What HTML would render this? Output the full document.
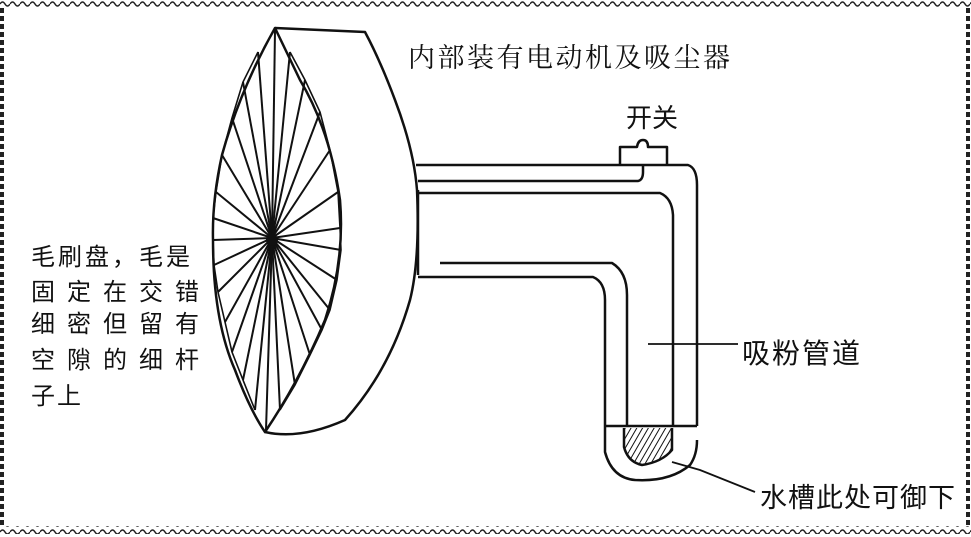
<!DOCTYPE html>
<html><head><meta charset="utf-8"><style>
html,body{margin:0;padding:0;background:#fff;}
svg{display:block;}
text{font-family:"Liberation Sans","Noto Sans CJK SC",sans-serif;fill:#111;}
</style></head><body>
<svg width="971" height="537" viewBox="0 0 971 537" xmlns="http://www.w3.org/2000/svg">
<defs>
<pattern id="w" width="10" height="8" patternUnits="userSpaceOnUse">
<path d="M0 4 Q2.5 0 5 4 T10 4" fill="none" stroke="#222" stroke-width="1.5"/>
</pattern>
<pattern id="h" width="5" height="5" patternUnits="userSpaceOnUse" patternTransform="rotate(30)">
<line x1="0" y1="0" x2="0" y2="5" stroke="#111" stroke-width="2"/>
</pattern>
</defs>
<rect x="0" y="1" width="971" height="8" fill="url(#w)"/>
<rect x="0" y="526" width="971" height="8" fill="url(#w)"/>
<line x1="2" y1="8" x2="2" y2="528" stroke="#222" stroke-width="4" stroke-dasharray="5 3"/>
<line x1="968" y1="8" x2="968" y2="528" stroke="#222" stroke-width="4" stroke-dasharray="5 3"/>

<g fill="none" stroke="#111" stroke-width="2.5" stroke-linejoin="round">
<path d="M275 28 L365 32 Q380 60 395 100 Q414 150 417 190 Q420 260 410 300 Q390 370 345 420 Q300 440 265 432"/>
<path d="M275 28 Q240 90 222 155 Q212 200 213 240 Q213 320 235 370 Q250 410 265 432 Q300 380 325 320 Q345 260 340 200 Q330 130 300 80 Z"/>
<path d="M416 165 L688 165 Q697 168 697 185 L697 426"/>
<path d="M418 181 L638 181 Q643 180 643 172 L643 165"/>
<path d="M418 193 L660 193 Q672 198 673 215 L673 426"/>
<path d="M440 263 L612 263 Q627 272 627 295 L627 426"/>
<path d="M418 277 L593 277 Q605 282 605 300 L605 426"/>
<path d="M418 190 L418 275"/>
<line x1="605" y1="426" x2="697" y2="426"/>
<path d="M605 426 L605 452 Q612 478 635 480 Q670 482 690 465 Q697 455 697 440"/>
<path d="M624 428 L624 447 Q628 462 642 465 Q662 462 672 450 L672 428"/>
<path d="M620 165 L620 147 L637 147 Q638 140 643 140 Q648 140 648 147 L667 147 L667 165"/>
</g>
<path d="M625 428 L624 447 Q628 462 642 465 Q662 462 672 450 L671 428 Z" fill="url(#h)"/>

<g stroke="#111" stroke-width="2">
<line x1="272" y1="238" x2="275" y2="30"/>
<line x1="272" y1="238" x2="258" y2="52"/>
<line x1="272" y1="238" x2="290" y2="52"/>
<line x1="272" y1="238" x2="243" y2="82"/>
<line x1="272" y1="238" x2="305" y2="80"/>
<line x1="272" y1="238" x2="232" y2="118"/>
<line x1="272" y1="238" x2="320" y2="112"/>
<line x1="272" y1="238" x2="222" y2="155"/>
<line x1="272" y1="238" x2="330" y2="150"/>
<line x1="272" y1="238" x2="216" y2="192"/>
<line x1="272" y1="238" x2="338" y2="192"/>
<line x1="272" y1="238" x2="213" y2="218"/>
<line x1="272" y1="238" x2="340" y2="228"/>
<line x1="272" y1="238" x2="213" y2="240"/>
<line x1="272" y1="238" x2="341" y2="250"/>
<line x1="272" y1="238" x2="214" y2="265"/>
<line x1="272" y1="238" x2="337" y2="280"/>
<line x1="272" y1="238" x2="218" y2="292"/>
<line x1="272" y1="238" x2="330" y2="310"/>
<line x1="272" y1="238" x2="225" y2="322"/>
<line x1="272" y1="238" x2="322" y2="330"/>
<line x1="272" y1="238" x2="232" y2="352"/>
<line x1="272" y1="238" x2="310" y2="355"/>
<line x1="272" y1="238" x2="243" y2="380"/>
<line x1="272" y1="238" x2="295" y2="385"/>
<line x1="272" y1="238" x2="255" y2="410"/>
<line x1="272" y1="238" x2="280" y2="410"/>
<line x1="272" y1="238" x2="266" y2="430"/>
</g>
<g fill="none" stroke="#111" stroke-width="1.6">
<polyline points="258,52 243,82 232,118 222,155 216,192 213,218 213,240 214,265 218,292 225,322 232,352 243,380 255,410"/>
<polyline points="290,52 305,80 320,112 330,150 338,192 340,228 341,250 337,280 330,310 322,330 310,355 295,385 280,410"/>
</g>
<circle cx="272" cy="240" r="6" fill="#111"/>

<line x1="648" y1="344" x2="738" y2="344" stroke="#111" stroke-width="1.8"/>
<path d="M672 462 L700 470 L755 492" fill="none" stroke="#111" stroke-width="1.8"/>

<text x="408" y="67" font-size="27" letter-spacing="2.5" style="font-family:'Liberation Serif','Noto Serif CJK SC',serif">内部装有电动机及吸尘器</text>
<text x="626" y="127" font-size="26">开关</text>
<text x="742" y="363" font-size="28" letter-spacing="2">吸粉管道</text>
<text x="760" y="507" font-size="27" letter-spacing="1">水槽此处可御下</text>
<g font-size="24">
<text x="31" y="265" letter-spacing="3">毛刷盘，毛是</text>
<text x="31" y="300" letter-spacing="12">固定在交错</text>
<text x="31" y="332" letter-spacing="12">细密但留有</text>
<text x="31" y="368" letter-spacing="12">空隙的细杆</text>
<text x="31" y="404" letter-spacing="2">子上</text>
</g>
</svg>
</body></html>
